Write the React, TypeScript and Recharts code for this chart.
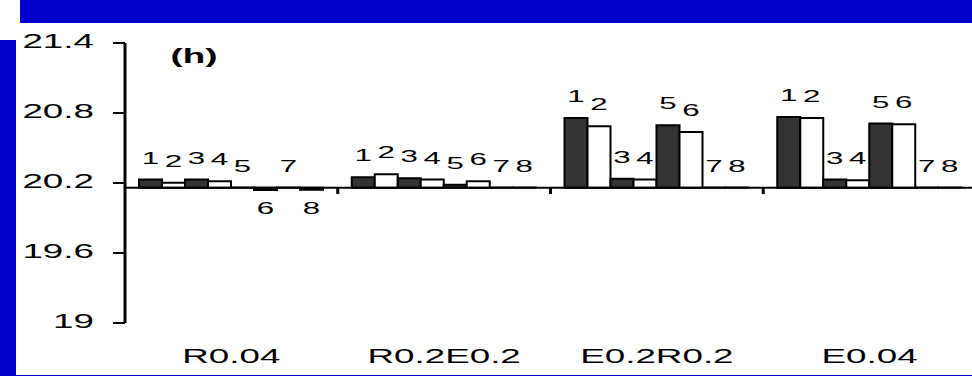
import React from "react";
import { Bar, BarChart, LabelList, ReferenceLine, XAxis, YAxis } from "recharts";

const categories = ["R0.04", "R0.2E0.2", "E0.2R0.2", "E0.04"];
const BASE = 20.16; // where the x axis crosses

const s1 = [20.23, 20.25, 20.757, 20.766];
const s2 = [20.203, 20.275, 20.686, 20.757];
const s3 = [20.23, 20.24, 20.237, 20.23];
const s4 = [20.215, 20.23, 20.23, 20.223];
const s5 = [20.161, 20.185, 20.695, 20.709];
const s6 = [20.14, 20.215, 20.637, 20.703];
const s7 = [20.161, 20.161, 20.161, 20.161];
const s8 = [20.142, 20.161, 20.161, 20.161];
const seriesList = [s1, s2, s3, s4, s5, s6, s7, s8];
const seriesLabels = ["1", "2", "3", "4", "5", "6", "7", "8"];
const yTicks = [19, 19.6, 20.2, 20.8, 21.4];

const DARK = "#333333";
const BLUE = "#0000cc";
const SX = 1.84; // the picture is stretched sideways
const FONT = "'Liberation Sans', Arial, sans-serif";

const data = categories.map((name, i) => {
  const row: Record<string, string | number> = { name };
  seriesList.forEach((s, k) => {
    row[`s${k + 1}`] = s[i];
  });
  return row;
});

function WideText({ x, y, size, anchor = "middle", bold = false, children }: any) {
  return (
    <text
      transform={`translate(${x},${y}) scale(${SX},1)`}
      textAnchor={anchor}
      fontFamily={FONT}
      fontSize={size}
      fontWeight={bold ? 700 : 400}
      fill="#000"
    >
      {children}
    </text>
  );
}

function YTick({ x, y, payload }: any) {
  return (
    <WideText x={x} y={y + 5} size={20} anchor="end">
      {payload.value}
    </WideText>
  );
}

function XTick({ x, y, payload }: any) {
  return (
    <WideText x={x} y={y} size={20}>
      {payload.value}
    </WideText>
  );
}

function makeLabel(k: number) {
  return function BarNumber(props: any) {
    const { x, y, width, height, index } = props;
    const v = seriesList[k][index];
    const top = Math.min(y, y + height);
    const bottom = Math.max(y, y + height);
    const cx = x + width / 2;
    const ly = v < BASE ? bottom + 24 : top - 16;
    return (
      <WideText x={cx} y={ly} size={17}>
        {seriesLabels[k]}
      </WideText>
    );
  };
}

export default function App() {
  return (
    <div
      style={{
        position: "absolute",
        left: 0,
        top: 0,
        width: 972,
        height: 376,
        overflow: "hidden",
        background: "#fff",
      }}
    >
      <BarChart
        width={980}
        height={376}
        data={data}
        margin={{ top: 43, right: 4, bottom: 0, left: 0 }}
        barCategoryGap={14}
        barGap={0}
      >
        <XAxis
          dataKey="name"
          axisLine={false}
          tickLine={false}
          tickSize={0}
          tickMargin={40}
          height={53}
          tick={<XTick />}
          interval={0}
        />
        <YAxis
          type="number"
          domain={[19, 21.4]}
          ticks={yTicks}
          width={125}
          tickSize={12}
          tickMargin={19}
          axisLine={{ stroke: "#000", strokeWidth: 3 }}
          tickLine={{ stroke: "#000", strokeWidth: 2 }}
          tick={<YTick />}
        />
        {seriesList.map((_, k) => (
          <Bar
            key={k}
            dataKey={(d: any) => [BASE, d[`s${k + 1}`]]}
            fill={k % 2 === 0 ? DARK : "#fff"}
            stroke="#000"
            strokeWidth={2}
            isAnimationActive={false}
          >
            <LabelList content={makeLabel(k)} />
          </Bar>
        ))}
        <ReferenceLine y={BASE} stroke="#000" strokeWidth={2} />
        {categories.slice(1).map((c) => (
          <ReferenceLine
            key={c}
            segment={[
              { x: c, y: BASE },
              { x: c, y: BASE - 0.055 },
            ]}
            position="start"
            stroke="#000"
            strokeWidth={3}
          />
        ))}
      </BarChart>
      <svg
        width={972}
        height={376}
        style={{ position: "absolute", left: 0, top: 0, pointerEvents: "none" }}
      >
        <rect x={20} y={0} width={952} height={23} fill={BLUE} />
        <rect x={0} y={40} width={16} height={336} fill={BLUE} />
        <rect x={0} y={375} width={972} height={1} fill={BLUE} />
        <WideText x={194} y={63} size={20} bold>
          (h)
        </WideText>
      </svg>
    </div>
  );
}
